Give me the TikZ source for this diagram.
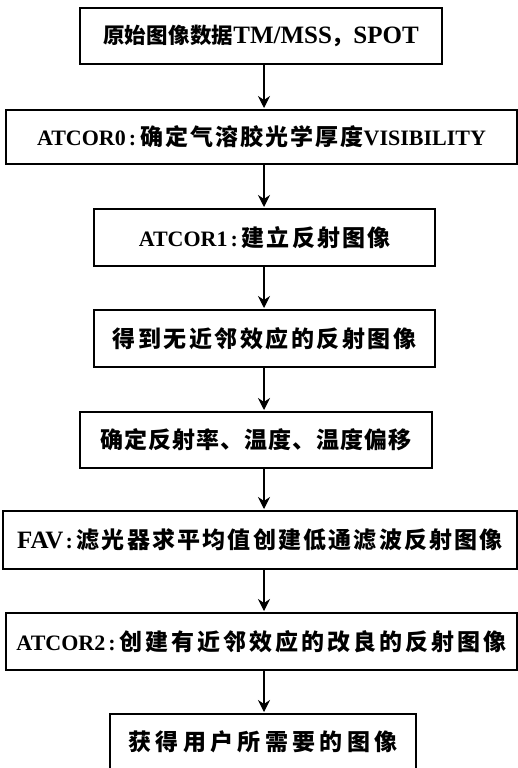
\documentclass[tikz,border=0pt]{standalone}
\usepackage{fontspec}
\setmainfont{Liberation Serif}
\newfontfamily\cjk{Noto Sans CJK SC}
\usetikzlibrary{arrows.meta}
\newcommand\zh[3][23]{{\cjk\bfseries\fontsize{#1}{26}\selectfont\addfontfeature{LetterSpace=#2}#3}}
\tikzset{
  flowbox/.style={draw, line width=1.5pt, inner sep=0pt, outer sep=0pt, align=center,
    font=\bfseries\fontsize{22}{26}\selectfont},
  flowarrow/.style={line width=1.1pt, shorten >=2pt, -{Stealth[length=12pt,width=12pt,inset=4pt]}}
}
\begin{document}
\begin{tikzpicture}[x=1pt,y=-1pt]
\useasboundingbox (0,0) rectangle (518,768);
\clip (0,0) rectangle (518,768);
\fill[white] (0,0) rectangle (518,768);
\coordinate (ax) at (264,0);

\node[flowbox, minimum width=362pt, minimum height=56pt] (b1) at (261,36)
  {\zh[21.5]{1}{原始图像数据}{\fontsize{25}{28}\selectfont TM/MSS}\zh[21.5]{0}{，}{\fontsize{25}{28}\selectfont SPOT}};
\node[flowbox, minimum width=511pt, minimum height=54pt] (b2) at (261.5,137)
  {ATCOR0\hspace{3pt}:\hspace{4pt}\zh{9}{确定气溶胶光学厚度}VISIBILITY};
\node[flowbox, minimum width=341pt, minimum height=57pt] (b3) at (264.5,237.5)
  {ATCOR1\hspace{3pt}:\hspace{4pt}\zh{9}{建立反射图像}};
\node[flowbox, minimum width=341pt, minimum height=57pt] (b4) at (264.5,338.5)
  {\zh{11}{得到无近邻效应的反射图像}};
\node[flowbox, minimum width=352pt, minimum height=56pt] (b5) at (256,440)
  {\zh{4}{确定反射率、温度、温度偏移}};
\node[flowbox, minimum width=514pt, minimum height=58pt] (b6) at (260,540)
  {{\fontsize{25}{28}\selectfont FAV}\hspace{2pt}:\hspace{4pt}\zh{9.5}{滤光器求平均值创建低通滤波反射图像}};
\node[flowbox, minimum width=511pt, minimum height=57pt] (b7) at (261.5,641.5)
  {ATCOR2\hspace{3pt}:\hspace{4pt}\zh{13}{创建有近邻效应的改良的反射图像}};
\node[flowbox, minimum width=306pt, minimum height=56pt] (b8) at (263,742)
  {\zh{19}{获得用户所需要的图像}};

\draw[flowarrow] (b1.south -| ax) -- (b2.north -| ax);
\draw[flowarrow] (b2.south -| ax) -- (b3.north -| ax);
\draw[flowarrow] (b3.south -| ax) -- (b4.north -| ax);
\draw[flowarrow] (b4.south -| ax) -- (b5.north -| ax);
\draw[flowarrow] (b5.south -| ax) -- (b6.north -| ax);
\draw[flowarrow] (b6.south -| ax) -- (b7.north -| ax);
\draw[flowarrow] (b7.south -| ax) -- (b8.north -| ax);
\end{tikzpicture}
\end{document}
